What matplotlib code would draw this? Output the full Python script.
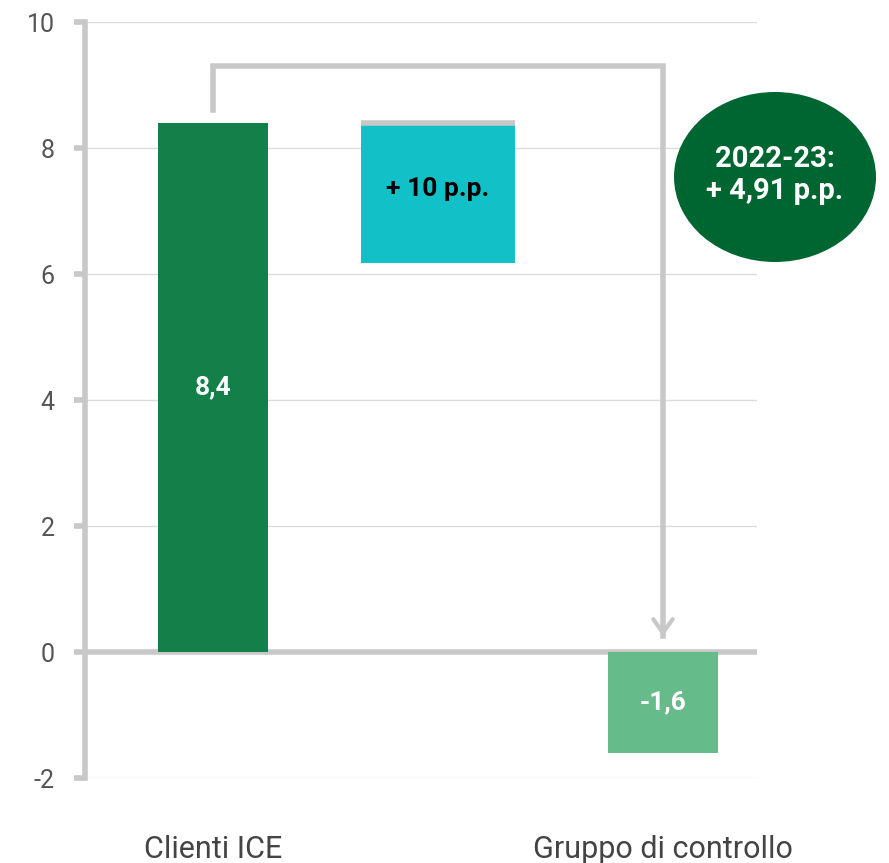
import matplotlib
matplotlib.use("Agg")
import matplotlib.pyplot as plt
from matplotlib.patches import Ellipse

plt.rcParams['font.family'] = ['Roboto', 'DejaVu Sans']

categories = ['Clienti ICE', '', 'Gruppo di controllo']
positions = [0, 1, 2]
ice_value = 8.4
control_value = -1.6
gap_bottom = 6.17
gap_top = 8.37
gap_label = '+ 10 p.p.'
bubble_text = '2022-23:\n+ 4,91 p.p.'
yticks = [-2, 0, 2, 4, 6, 8, 10]

GRAY = '#c8c8c8'

fig = plt.figure(figsize=(8.89, 8.63), dpi=100)
ax = fig.add_axes([85 / 889, 85 / 863, 672 / 889, 756 / 863])
ax.set_xlim(-0.569, 2.418)
ax.set_ylim(-2, 10)

# gridlines
for y in yticks:
    if y == 0:
        continue
    ax.axhline(y, color='#dcdcdc', lw=1, zorder=0)
ax.axhline(0, color=GRAY, lw=4, zorder=1)

# bars
ax.bar(positions[0], ice_value, width=0.49, color='#128048', zorder=2)
ax.bar(positions[2], control_value, width=0.49, color='#66bb8a', zorder=2)
ax.bar(positions[1], gap_top - gap_bottom, bottom=gap_bottom, width=0.685,
       color='#12c1c8', zorder=2)
ax.plot([positions[1] - 0.3425, positions[1] + 0.3425], [gap_top + 0.03] * 2,
        color=GRAY, lw=4, solid_capstyle='butt', zorder=3)

# labels on bars
ax.text(positions[0], ice_value / 2, '8,4', color='white', fontsize=19,
        fontweight='semibold', ha='center', va='center', zorder=4)
ax.text(positions[2], control_value / 2, '-1,6', color='white', fontsize=19,
        fontweight='semibold', ha='center', va='center', zorder=4)
ax.text(positions[1], 7.35, gap_label, color='black', fontsize=19,
        fontweight='bold', ha='center', va='center', zorder=4)

# connector arrow
ax.plot([positions[0], positions[0], positions[2], positions[2]],
        [8.6, 9.3, 9.3, 0.25], color=GRAY, lw=4, zorder=3,
        solid_joinstyle='miter')
ax.annotate('', xy=(positions[2], 0.2), xytext=(positions[2], 0.6),
            arrowprops=dict(arrowstyle='->,head_length=1.0,head_width=0.7',
                            color=GRAY, lw=3), zorder=3)

# bubble
ell = Ellipse((775, 863 - 177), 202, 170, transform=None,
              facecolor='#006631', edgecolor='none', zorder=5)
fig.patches.append(ell)
fig.text(775 / 889, (863 - 175) / 863, bubble_text, color='white',
         fontsize=21, fontweight='bold', ha='center', va='center',
         linespacing=1.15, zorder=6)

# axes styling
for s in ['top', 'right', 'bottom']:
    ax.spines[s].set_visible(False)
ax.spines['left'].set_color(GRAY)
ax.spines['left'].set_linewidth(4)
ax.set_yticks(yticks)
ax.set_yticklabels([str(v) for v in yticks])
ax.tick_params(axis='y', length=8, width=4, color=GRAY, labelsize=18,
               labelcolor='#555555', pad=14)
ax.set_xticks(positions)
ax.set_xticklabels(categories)
ax.tick_params(axis='x', length=0, labelsize=22, labelcolor='#444444', pad=41)

fig.savefig('out.png', dpi=100)
